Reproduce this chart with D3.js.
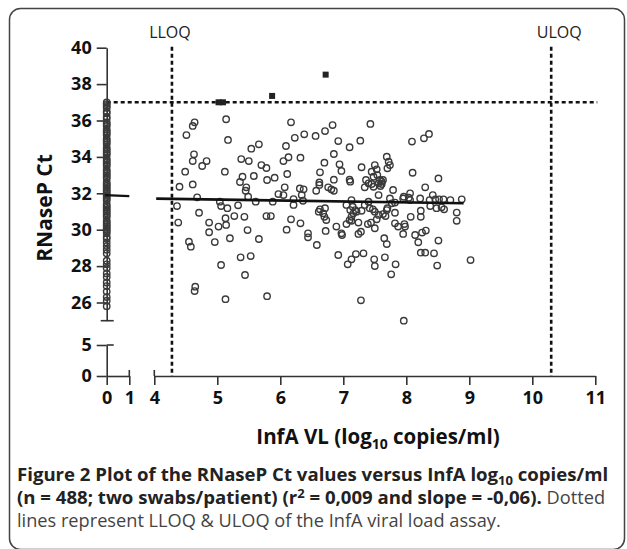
<!DOCTYPE html>
<meta charset="utf-8">
<script src="https://d3js.org/d3.v7.min.js"></script>
<style>
  body { margin: 0; background: #fff; }
  text { font-family: "Open Sans", sans-serif; }
</style>
<div id="chart"></div>
<script>

// InfA viral load (log10 copies/ml) and RNaseP Ct of the quantified swabs
var vlX = [4.36,4.38,4.40,4.49,4.51,4.55,4.58,4.61,4.64,4.61,4.63,4.61,4.64,4.65,4.68,4.71,4.76,4.83,4.87,4.87,
  4.96,5.02,5.04,5.06,5.06,5.12,5.13,5.14,5.14,5.13,5.16,5.17,5.20,5.27,5.33,5.36,5.37,5.38,5.40,5.43,
  5.44,5.45,5.46,5.48,5.49,5.50,5.53,5.54,5.58,5.61,5.66,5.66,5.70,5.78,5.78,5.79,5.79,5.85,5.88,5.91,
  5.97,6.05,6.05,6.07,6.09,6.10,6.11,6.13,6.17,6.17,6.21,6.21,6.23,6.31,6.32,6.32,6.34,6.36,6.37,6.38,
  6.44,6.44,6.56,6.57,6.58,6.61,6.62,6.62,6.63,6.63,6.68,6.70,6.70,6.71,6.71,6.73,6.72,6.76,6.81,6.83,
  6.85,6.85,6.85,6.89,6.92,6.92,6.94,6.97,6.97,6.98,7.05,7.05,7.07,7.10,7.10,7.10,7.11,7.11,7.13,7.13,
  7.13,7.13,7.15,7.16,7.19,7.20,7.21,7.24,7.24,7.27,7.28,7.28,7.29,7.29,7.32,7.34,7.34,7.36,7.39,7.40,
  7.40,7.42,7.43,7.44,7.45,7.45,7.47,7.48,7.48,7.49,7.50,7.50,7.50,7.50,7.53,7.53,7.54,7.56,7.56,7.56,
  7.58,7.59,7.61,7.61,7.63,7.63,7.65,7.66,7.67,7.69,7.69,7.69,7.70,7.70,7.72,7.74,7.74,7.76,7.77,7.79,
  7.82,7.82,7.82,7.83,7.87,7.95,7.95,7.96,7.96,7.97,7.98,8.04,8.06,8.06,8.07,8.09,8.10,8.14,8.19,8.22,
  8.23,8.23,8.23,8.25,8.28,8.30,8.30,8.31,8.36,8.37,8.38,8.42,8.44,8.46,8.48,8.49,8.51,8.51,8.52,8.56,
  8.59,8.60,8.70,8.80,8.80,8.88,9.02];
var ctY = [31.30,30.39,32.36,33.19,35.20,29.34,29.07,35.70,35.90,33.77,34.14,32.49,26.63,26.87,31.78,30.93,33.50,33.77,30.39,29.86,
  29.32,30.17,31.54,31.30,28.06,33.19,26.18,36.07,30.26,30.63,31.18,34.93,29.53,30.75,31.34,32.62,28.48,33.88,32.91,30.71,
  27.51,32.14,32.33,29.98,31.81,33.77,28.55,34.45,32.95,31.54,34.69,29.49,33.55,33.39,30.75,32.73,26.35,30.75,31.54,32.86,
  31.96,31.90,33.77,32.33,34.60,30.00,33.06,33.98,35.90,30.57,31.36,31.68,35.05,32.27,33.96,30.35,31.90,31.59,32.22,35.24,
  29.80,29.58,35.15,32.14,29.16,30.99,32.60,32.46,33.15,31.12,30.90,33.68,30.71,35.42,31.18,30.53,29.93,32.33,32.22,35.75,
  34.16,32.75,32.14,30.17,34.87,28.61,33.59,33.23,29.80,29.71,31.36,30.31,28.10,34.53,32.75,30.53,32.64,31.08,31.63,30.49,
  28.37,30.71,31.26,30.90,31.08,28.66,30.99,30.39,29.77,34.89,29.89,26.12,33.43,31.04,28.70,32.33,31.36,32.73,30.31,32.55,
  31.54,31.18,35.81,30.39,33.19,32.51,31.12,32.91,32.36,28.37,33.55,30.99,30.08,28.00,33.32,30.57,33.00,32.55,31.90,30.81,
  32.73,32.40,32.51,32.64,32.73,30.86,29.53,28.48,30.75,34.01,31.08,29.21,33.37,31.18,33.74,33.55,31.72,27.55,31.45,32.18,
  31.49,30.93,30.35,28.10,30.17,31.72,29.77,31.81,25.00,30.31,30.17,31.76,32.00,31.63,30.71,34.84,33.13,29.71,29.31,31.72,
  31.04,30.71,28.74,29.84,35.02,32.33,28.74,29.95,35.26,31.63,31.30,31.90,28.70,31.67,31.18,28.03,32.82,29.40,31.67,31.23,
  31.67,31.12,31.63,30.94,30.49,31.67,28.33];

// RNaseP Ct of the swabs with no InfA detected (plotted at x = 0)
var zeroCt = [37.0,36.9,36.8,36.7,36.5,36.4,36.2,36.1,35.9,35.8,35.7,35.5,35.4,35.3,35.2,35.0,34.9,34.8,34.7,34.5,
  34.4,34.3,34.2,34.1,33.9,33.8,33.7,33.6,33.5,33.3,33.2,33.1,33.0,32.9,32.8,32.6,32.5,32.4,32.3,32.2,
  32.1,32.0,31.9,31.8,31.7,31.6,31.4,31.3,31.2,31.1,31.0,30.9,30.8,30.7,30.5,30.4,30.3,30.2,30.1,30.0,
  29.9,29.8,29.6,29.5,29.3,29.1,28.9,28.7,28.3,28.1,27.9,27.6,27.4,27.1,26.9,26.6,26.3,26.1,25.8];
var zeroMeanCt = 31.9;

// above ULOQ of the Ct (filled squares)
var highVL = [5.02, 5.09, 5.87, 6.72];
var highCt = [37.0, 37.0, 37.35, 38.52];

// linear fit end points
var fitX = [4.03, 8.91];
var fitY = [31.71, 31.45];

var lloq = 4.28, uloq = 10.3, ctCut = 37;

var yTicksHigh = [26, 28, 30, 32, 34, 36, 38, 40];
var yTicksLow = [0, 5];
var xTicksLow = [0, 1];
var xTicksHigh = [4, 5, 6, 7, 8, 9, 10, 11];

var W = 627, H = 549;

var svg = d3.select("#chart")
  .append("svg")
    .attr("width", W)
    .attr("height", H);

// frame
svg.append("rect")
  .attr("x", 9.5).attr("y", 8.5)
  .attr("width", 615).attr("height", 541)
  .attr("rx", 11)
  .attr("fill", "none")
  .attr("stroke", "#444")
  .attr("stroke-width", 1.5);

// broken axes: two pieces on each
var xLow = d3.scaleLinear().domain([0, 1]).range([106.7, 129.3]);
var xHigh = d3.scaleLinear().domain([4, 11]).range([154.3, 595.3]);
var yLow = d3.scaleLinear().domain([0, 5]).range([376, 345]);
var yHigh = d3.scaleLinear().domain([25, 40]).range([320.7, 47.7]);

var fmt = d3.format("d");

function styleAxis(g) {
  g.selectAll("path, line").attr("stroke", "#333").attr("stroke-width", 1.6);
  g.selectAll("text")
    .attr("fill", "#111")
    .style("font-size", "18px")
    .style("font-weight", "bold")
    .style("font-family", "'Open Sans', sans-serif");
}

var x0 = xLow(0), yBase = yLow(0);

svg.append("g")
  .attr("transform", "translate(" + x0 + ",0)")
  .call(d3.axisLeft(yHigh).tickValues(yTicksHigh).tickFormat(fmt).tickSize(10).tickSizeOuter(0).tickPadding(5))
  .call(styleAxis);
svg.append("g")
  .attr("transform", "translate(" + x0 + ",0)")
  .call(d3.axisLeft(yLow).tickValues(yTicksLow).tickFormat(fmt).tickSize(10).tickSizeOuter(0).tickPadding(5))
  .call(styleAxis);
svg.append("g")
  .attr("transform", "translate(0," + yBase + ")")
  .call(d3.axisBottom(xLow).tickValues(xTicksLow).tickFormat(fmt).tickSize(9).tickSizeOuter(0).tickPadding(6))
  .call(styleAxis);
svg.append("g")
  .attr("transform", "translate(0," + yBase + ")")
  .call(d3.axisBottom(xHigh).tickValues(xTicksHigh).tickFormat(fmt).tickSize(9).tickSizeOuter(0).tickPadding(6))
  .call(styleAxis);

// end caps at the breaks
var caps = svg.append("g").attr("stroke", "#333").attr("stroke-width", 1.6);
caps.append("line").attr("x1", x0 - 6).attr("x2", x0 + 7).attr("y1", yHigh(25)).attr("y2", yHigh(25));
caps.append("line").attr("x1", x0).attr("x2", x0 + 7).attr("y1", yLow(5)).attr("y2", yLow(5));
caps.append("line").attr("x1", xLow(1)).attr("x2", xLow(1)).attr("y1", yBase - 6).attr("y2", yBase);
caps.append("line").attr("x1", xHigh(4)).attr("x2", xHigh(4)).attr("y1", yBase - 6).attr("y2", yBase);

// dotted limit lines
var dash = svg.append("g")
  .attr("stroke", "#111")
  .attr("stroke-width", 2.6)
  .attr("stroke-dasharray", "4,3")
  .attr("fill", "none");
dash.append("line")
  .attr("x1", x0).attr("x2", xHigh(11) + 2)
  .attr("y1", yHigh(ctCut)).attr("y2", yHigh(ctCut));
[lloq, uloq].forEach(function(v) {
  dash.append("line")
    .attr("x1", xHigh(v)).attr("x2", xHigh(v))
    .attr("y1", yHigh(40) - 1).attr("y2", yBase);
});

svg.append("text")
  .attr("x", xHigh(lloq) - 2).attr("y", 38)
  .attr("text-anchor", "middle")
  .style("font-size", "16px").attr("fill", "#222")
  .text("LLOQ");
svg.append("text")
  .attr("x", xHigh(uloq) + 8).attr("y", 38)
  .attr("text-anchor", "middle")
  .style("font-size", "16px").attr("fill", "#222")
  .text("ULOQ");

// x = 0 column
svg.append("g")
  .selectAll("circle")
  .data(zeroCt)
  .enter().append("circle")
    .attr("cx", x0)
    .attr("cy", function(d) { return yHigh(d); })
    .attr("r", 3.2)
    .attr("fill", "none")
    .attr("stroke", "#3a3a3a")
    .attr("stroke-width", 1.4);

svg.append("line")
  .attr("x1", xLow(-0.08)).attr("x2", xLow(1))
  .attr("y1", yHigh(zeroMeanCt)).attr("y2", yHigh(zeroMeanCt) + 1)
  .attr("stroke", "#111").attr("stroke-width", 2.4);

// scatter
svg.append("g")
  .selectAll("circle")
  .data(vlX)
  .enter().append("circle")
    .attr("cx", function(d) { return xHigh(d); })
    .attr("cy", function(d, i) { return yHigh(ctY[i]); })
    .attr("r", 3.2)
    .attr("fill", "none")
    .attr("stroke", "#3a3a3a")
    .attr("stroke-width", 1.4);

svg.append("g")
  .selectAll("rect")
  .data(highVL)
  .enter().append("rect")
    .attr("x", function(d) { return xHigh(d) - 3; })
    .attr("y", function(d, i) { return yHigh(highCt[i]) - 3; })
    .attr("width", 6).attr("height", 6)
    .attr("fill", "#222");

// fit line
svg.append("path")
  .datum(fitX.map(function(d, i) { return [d, fitY[i]]; }))
  .attr("fill", "none")
  .attr("stroke", "#111")
  .attr("stroke-width", 2.6)
  .attr("d", d3.line()
    .x(function(d) { return xHigh(d[0]); })
    .y(function(d) { return yHigh(d[1]); }));

// axis titles
svg.append("text")
  .attr("transform", "translate(52,208) rotate(-90)")
  .attr("text-anchor", "middle")
  .style("font-size", "21px").style("font-weight", "bold").attr("fill", "#111")
  .text("RNaseP Ct");

var xt = svg.append("text")
  .attr("x", 378).attr("y", 444)
  .attr("text-anchor", "middle")
  .style("font-size", "20.5px").style("font-weight", "bold").attr("fill", "#111");
xt.append("tspan").text("InfA VL (log");
xt.append("tspan").attr("dy", 5).style("font-size", "14px").text("10");
xt.append("tspan").attr("dy", -5).text(" copies/ml)");

// caption
var cap = svg.append("g").style("font-size", "18.6px").attr("fill", "#222");
var l1 = cap.append("text").attr("x", 17).attr("y", 481).style("font-weight", "bold");
l1.append("tspan").text("Figure 2 Plot of the RNaseP Ct values versus InfA log");
l1.append("tspan").attr("dy", 4).style("font-size", "13px").text("10");
l1.append("tspan").attr("dy", -4).text(" copies/ml");

var l2 = cap.append("text").attr("x", 17).attr("y", 504);
l2.append("tspan").style("font-weight", "bold").text("(n = 488; two swabs/patient) (r");
l2.append("tspan").style("font-weight", "bold").attr("dy", -6).style("font-size", "13px").text("2");
l2.append("tspan").style("font-weight", "bold").attr("dy", 6).text(" = 0,009 and slope = -0,06).");
l2.append("tspan").attr("fill", "#444").style("font-size", "18.2px").text(" Dotted");

cap.append("text").attr("x", 17).attr("y", 527)
  .attr("fill", "#444")
  .style("font-size", "18.2px")
  .text("lines represent LLOQ & ULOQ of the InfA viral load assay.");

</script>
